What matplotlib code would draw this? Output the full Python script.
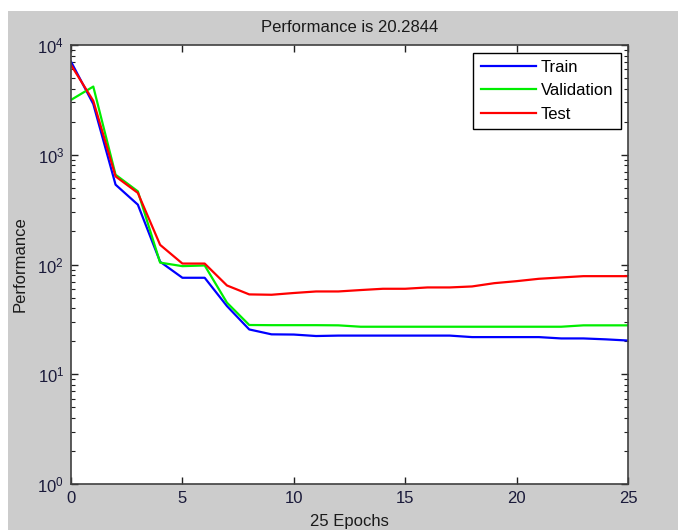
import matplotlib
matplotlib.use('Agg')
import matplotlib.pyplot as plt
from matplotlib.patches import Rectangle
from matplotlib.ticker import LogLocator, NullFormatter

# --- values ---
epochs = list(range(26))
train = [7050, 2900, 534, 351, 106, 75.7, 75.7, 41.8, 25.6, 23.1, 23.0, 22.3,
         22.5, 22.5, 22.5, 22.5, 22.5, 22.5, 21.8, 21.8, 21.8, 21.8, 21.2, 21.2,
         20.8, 20.2844]
validation = [3160, 4180, 658, 464, 104, 96.6, 98, 44.9, 28.1, 28.0, 28.0, 28.0,
              27.9, 27.1, 27.1, 27.1, 27.1, 27.1, 27.1, 27.1, 27.1, 27.1, 27.1,
              27.9, 27.9, 27.9]
test = [6580, 3100, 635, 449, 151, 102, 102, 64.4, 53.4, 53.0, 55.0, 56.8,
        56.8, 58.5, 60.1, 60.1, 61.8, 61.8, 63.1, 67.6, 70.5, 74.1, 76.2, 78.3,
        78.3, 78.3]
series_names = ['Train', 'Validation', 'Test']
series_colors = ['#0000ff', '#00ee00', '#ff0000']
title_text = 'Performance is 20.2844'

plt.rcParams['font.family'] = ['Liberation Sans', 'DejaVu Sans']
plt.rcParams['mathtext.fontset'] = 'custom'
plt.rcParams['mathtext.rm'] = 'Liberation Sans'

W, H = 678, 530
fig = plt.figure(figsize=(W / 100, H / 100), dpi=100, facecolor='#cccccc')
# screenshot leaves a thin white strip on top and left of the gray window
fig.add_artist(Rectangle((0, 1 - 11 / H), 1, 11 / H, transform=fig.transFigure,
                         facecolor='white', edgecolor='none', zorder=-10))
fig.add_artist(Rectangle((0, 0), 8 / W, 1, transform=fig.transFigure,
                         facecolor='white', edgecolor='none', zorder=-10))

left, right, top, bottom = 71, 628, 45, 484
ax = fig.add_axes([left / W, 1 - bottom / H, (right - left) / W, (bottom - top) / H])
ax.set_facecolor('white')

for vals, name, col in zip([train, validation, test], series_names, series_colors):
    ax.plot(epochs, vals, color=col, lw=1.6, label=name)

ax.set_yscale('log')
ax.set_xlim(0, 25)
ax.set_ylim(1, 1e4)
ax.set_xticks([0, 5, 10, 15, 20, 25])
ax.yaxis.set_major_locator(LogLocator(base=10, numticks=10))
ax.yaxis.set_minor_locator(LogLocator(base=10, subs=range(2, 10), numticks=20))
ax.yaxis.set_minor_formatter(NullFormatter())

ax.tick_params(which='both', direction='in', top=True, right=True,
               colors='#202020', labelcolor='#1a1a3a', labelsize=12)
ax.tick_params(which='major', length=5, width=1, pad=5)
ax.tick_params(which='minor', length=3, width=0.8)
for sp in ax.spines.values():
    sp.set_color('#404040')
    sp.set_linewidth(1.2)

ax.set_title(title_text, fontsize=12, color='#1a1a1a', pad=9)
ax.set_xlabel('25 Epochs', fontsize=12, color='#1a1a1a', labelpad=6)
ax.set_ylabel('Performance', fontsize=12, color='#1a1a1a', labelpad=7)

leg = ax.legend(loc='upper right', fontsize=12, frameon=True, fancybox=False,
                edgecolor='black', framealpha=1, handlelength=3.3,
                handletextpad=0.3, borderaxespad=0.45, labelspacing=0.5,
                borderpad=0.45)
leg.get_frame().set_linewidth(1.0)

fig.savefig('out.png', dpi=100, facecolor=fig.get_facecolor())
